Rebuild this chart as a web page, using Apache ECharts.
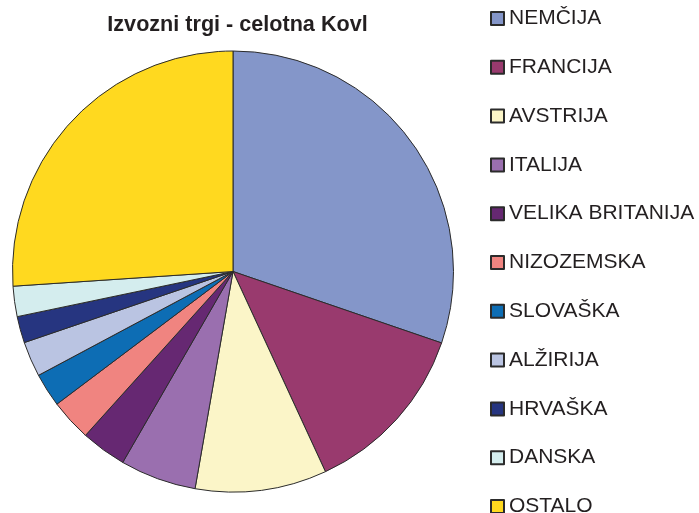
<!DOCTYPE html>
<html>
<head>
<meta charset="utf-8">
<script src="https://cdn.jsdelivr.net/npm/echarts@6/dist/echarts.min.js"></script>
<style>
  html, body { margin: 0; padding: 0; background: #fff; }
  #chart { width: 699px; height: 513px; }
</style>
</head>
<body>
<div id="chart"></div>
<script>
// trgi in deleži (%), odčitano s slike
var trgi = ['NEMČIJA', 'FRANCIJA', 'AVSTRIJA', 'ITALIJA', 'VELIKA BRITANIJA', 'NIZOZEMSKA',
            'SLOVAŠKA', 'ALŽIRIJA', 'HRVAŠKA', 'DANSKA', 'OSTALO']
var delezi = [30.25, 12.86, 9.64, 5.58, 3.33, 3.06, 2.47, 2.58, 1.94, 2.22, 26.06]
var barve = ['#8496C9', '#993A6E', '#FBF5C8', '#9A6FAF', '#662872', '#F08480',
             '#0D6DB4', '#BAC4E2', '#263580', '#D4EDEE', '#FFD91F']

var myChart = echarts.init(document.getElementById('chart'))
var option = {
    animation: false,
    color: barve,
    title: {
        text: 'Izvozni trgi - celotna Kovl',
        left: 237.5,
        textAlign: 'center',
        top: 14,
        padding: 0,
        textStyle: {
            fontFamily: 'Liberation Sans, Arial, sans-serif',
            fontWeight: 'bold',
            fontSize: 21.6,
            color: '#231F20'
        }
    },
    legend: {
        orient: 'vertical',
        left: 490,
        top: 8,
        height: 530,
        padding: 0,
        icon: 'rect',
        itemWidth: 13,
        itemHeight: 13,
        itemGap: 27.8,
        selectedMode: false,
        textStyle: {
            fontFamily: 'Liberation Sans, Arial, sans-serif',
            fontSize: 21,
            lineHeight: 20,
            color: '#231F20'
        },
        data: trgi
    },
    series: [
        {
            type: 'pie',
            center: [233, 271.5],
            radius: 220.5,
            startAngle: 90,
            clockwise: true,
            label: { show: false },
            labelLine: { show: false },
            emphasis: { disabled: true },
            itemStyle: { borderColor: '#2b2b2b', borderWidth: 1 },
            data: trgi.map(function (t, i) {
                return { name: t, value: delezi[i] }
            })
        }
    ]
}
myChart.setOption(option)
</script>
</body>
</html>
